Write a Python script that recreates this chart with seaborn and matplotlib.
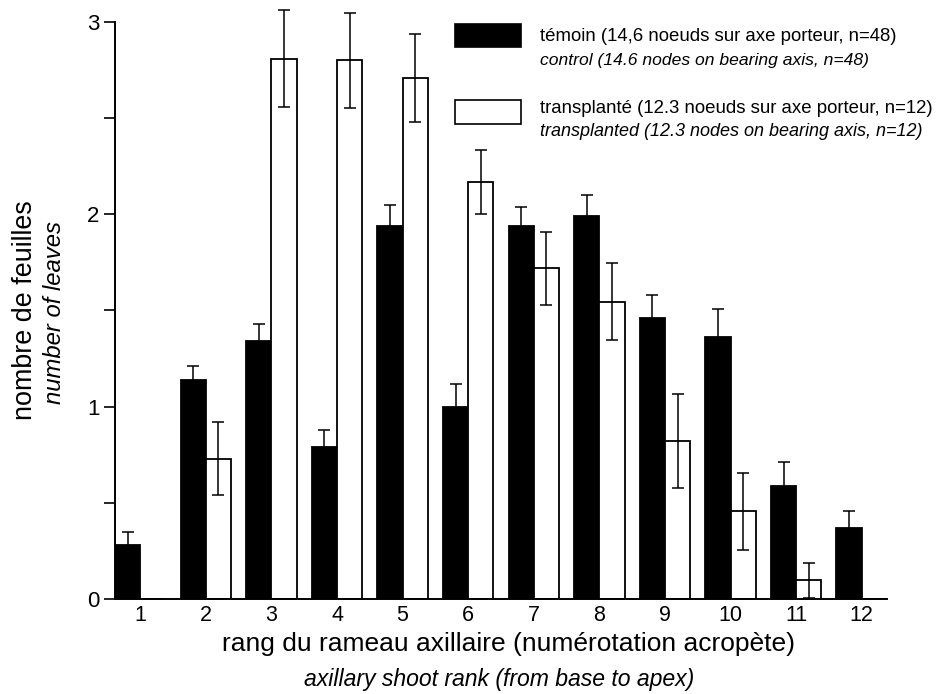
import pandas as pd
import matplotlib.pyplot as plt
import seaborn as sns
import numpy as np
from matplotlib.patches import Rectangle
from matplotlib.ticker import MultipleLocator

# rang du rameau axillaire
ranks = [1, 2, 3, 4, 5, 6, 7, 8, 9, 10, 11, 12]
# témoin / control
control_mean = [0.28, 1.14, 1.34, 0.79, 1.94, 1.00, 1.94, 1.99, 1.46, 1.36, 0.59, 0.37]
control_se = [0.07, 0.07, 0.09, 0.09, 0.11, 0.12, 0.10, 0.11, 0.12, 0.15, 0.12, 0.09]
# transplanté / transplanted
transpl_mean = [np.nan, 0.73, 2.81, 2.80, 2.71, 2.17, 1.72, 1.545, 0.82, 0.456, 0.097, np.nan]
transpl_se = [np.nan, 0.19, 0.25, 0.245, 0.23, 0.167, 0.19, 0.20, 0.245, 0.20, 0.09, np.nan]

groups = ['control', 'transplanted']

df = pd.DataFrame({
    'rank': [str(r) for r in ranks] * 2,
    'leaves': control_mean + transpl_mean,
    'group': ['control'] * len(ranks) + ['transplanted'] * len(ranks),
})
df['leaves'] = df['leaves'].fillna(0)

sns.set_style('ticks', {'axes.edgecolor': 'black', 'text.color': 'black',
                        'xtick.color': 'black', 'ytick.color': 'black',
                        'axes.labelcolor': 'black'})
plt.rcParams['font.family'] = ['Liberation Sans', 'DejaVu Sans']

fig = plt.figure(figsize=(9.51, 6.94), dpi=100)
ax = fig.add_axes([0.1209, 0.1369, 0.8118, 0.8314])

sns.barplot(data=df, x='rank', y='leaves', hue='group', hue_order=groups,
            palette={'control': 'black', 'transplanted': 'white'},
            edgecolor='black', linewidth=1.3, width=0.77, gap=0,
            errorbar=None, legend=False, ax=ax)

for cont, se in zip(ax.containers, [control_se, transpl_se]):
    xs = [b.get_x() + b.get_width() / 2 for b in cont]
    hs = [b.get_height() for b in cont]
    eb = ax.errorbar(xs, hs, yerr=np.array(se, dtype=float), fmt='none', ecolor='black',
                     elinewidth=1.1, capsize=4, capthick=1.1)
    for art in eb.lines[1] + eb.lines[2]:
        art.set_clip_on(False)

ax.set_xlim(-0.385, 11.385)
ax.set_ylim(0, 3)
ax.yaxis.set_major_locator(MultipleLocator(1))
ax.yaxis.set_minor_locator(MultipleLocator(0.5))
ax.tick_params(axis='y', which='both', length=8, width=1.2, labelsize=16, pad=3)
ax.tick_params(axis='x', length=0, labelsize=15.5, pad=4.5)
for s in ['top', 'right']:
    ax.spines[s].set_visible(False)
for s in ['left', 'bottom']:
    ax.spines[s].set_linewidth(1.4)
ax.set_xlabel('')
ax.set_ylabel('')

# axis titles (French + English italic)
fig.text(0.5352, 0.072, 'rang du rameau axillaire (numérotation acropète)',
         ha='center', va='center', fontsize=19)
fig.text(0.5247, 0.0216, 'axillary shoot rank (from base to apex)',
         ha='center', va='center', fontsize=16.6, style='italic')
fig.text(0.0262, 0.5533, 'nombre de feuilles', rotation=90,
         ha='center', va='center', fontsize=19.4)
fig.text(0.0575, 0.5504, 'number of leaves', rotation=90,
         ha='center', va='center', fontsize=17.2, style='italic')

# legend
ax.add_patch(Rectangle((0.4404, 0.9567), 0.0855, 0.0398, transform=ax.transAxes,
                       facecolor='black', edgecolor='black', lw=1.2, clip_on=False))
ax.add_patch(Rectangle((0.4404, 0.8232), 0.0855, 0.0416, transform=ax.transAxes,
                       facecolor='white', edgecolor='black', lw=1.2, clip_on=False))
fig.text(0.5678, 0.9467, 'témoin (14,6 noeuds sur axe porteur, n=48)',
         ha='left', va='center', fontsize=13.4)
fig.text(0.5678, 0.9135, 'control (14.6 nodes on bearing axis, n=48)',
         ha='left', va='center', fontsize=12.6, style='italic')
fig.text(0.5678, 0.843, 'transplanté (12.3 noeuds sur axe porteur, n=12)',
         ha='left', va='center', fontsize=13.4)
fig.text(0.5678, 0.81, 'transplanted (12.3 nodes on bearing axis, n=12)',
         ha='left', va='center', fontsize=13, style='italic')

plt.savefig('out.png', dpi=100)
